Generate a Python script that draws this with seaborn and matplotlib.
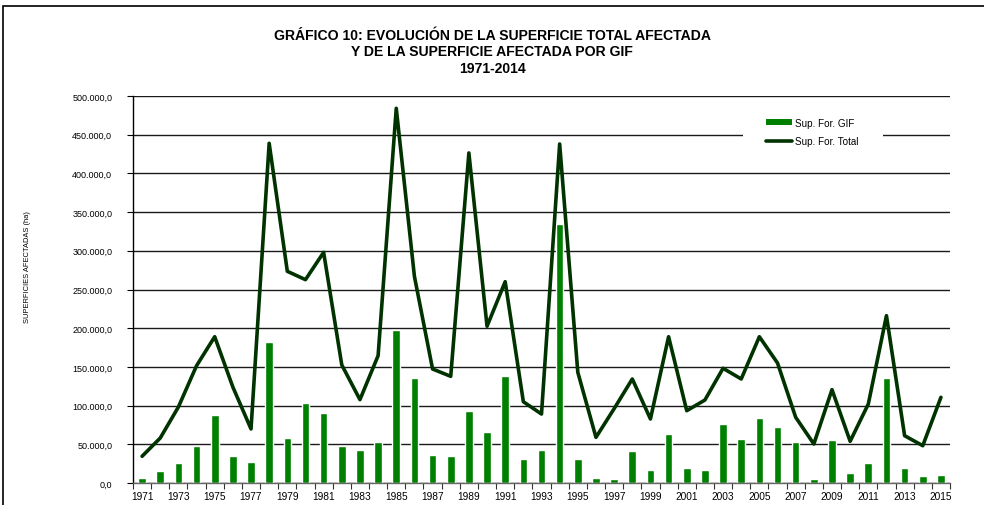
import numpy as np
import pandas as pd
import seaborn as sns
import matplotlib.pyplot as plt
from matplotlib.lines import Line2D
from matplotlib.patches import Patch, Rectangle
from matplotlib.ticker import FuncFormatter


#%% Data

Years = [str(y) for y in range(1971, 2016)]

Sup_GIF = [
    6500, 15000, 25500, 47800, 87500, 34500, 26700, 182500, 58100, 103400,
    90400, 47800, 42200, 53400, 198000, 135300, 36200, 34900, 93000, 65900,
    138700, 30600, 43000, 334600, 31400, 6500, 5200, 41300, 17200, 63300,
    19800, 16800, 76600, 56400, 84400, 72000, 52600, 5200, 56000, 12500,
    25800, 135300, 19400, 9500, 10300,
]

Sup_Total = [
    34500, 58100, 98200, 151500, 189000, 124000, 69800, 438900, 273500, 262700,
    298000, 152500, 107700, 164500, 484100, 267000, 147300, 137800, 426400, 202500,
    260100, 105000, 89100, 438000, 143000, 59000, 96000, 134400, 82700, 189000,
    93400, 107200, 148200, 134400, 189000, 155000, 84900, 50400, 120600, 53900,
    102000, 216200, 61100, 48200, 110700,
]

df = pd.DataFrame({"Year": Years, "GIF": Sup_GIF, "Total": Sup_Total})


#%% Style

Title   = ("GRÁFICO 10: EVOLUCIÓN DE LA SUPERFICIE TOTAL AFECTADA\n"
           "Y DE LA SUPERFICIE AFECTADA POR GIF\n"
           "1971-2014")
YLabel  = "SUPERFICIES AFECTADAS (ha)"

Color_Bar   = "#008000"
Color_Line  = "#003300"
FontName    = ["Liberation Sans", "DejaVu Sans"]

YTicks = np.arange(0, 500001, 50000)


def fmt_es(v, pos=None):
    s = "{:,.1f}".format(v)
    return s.replace(",", "X").replace(".", ",").replace("X", ".")


sns.set_style("white")
plt.rcParams["font.family"] = FontName
plt.rcParams["text.color"] = "k"
plt.rcParams["xtick.color"] = "k"
plt.rcParams["ytick.color"] = "k"

Fig = plt.figure(figsize=[9.84, 5.06], dpi=100)

# outer frame (cut at right/bottom like the source)
Fig.patches.append(Rectangle((3 / 984, -0.1), 1.2, (506 - 7) / 506 + 0.1,
                             transform=Fig.transFigure, fill=False,
                             edgecolor="k", linewidth=1.2, zorder=0))

ax = Fig.add_axes([133 / 984, 22 / 506, 817 / 984, 387 / 506])

# gridlines
for yv in YTicks:
    ax.axhline(yv, color="#1a1a1a", linewidth=1.0, zorder=0)

sns.barplot(data=df, x="Year", y="GIF", order=Years, color=Color_Bar,
            saturation=1, width=0.42, ax=ax, zorder=2)

sns.pointplot(data=df, x="Year", y="Total", order=Years, color=Color_Line,
              markers="", linewidth=2.6, ax=ax, zorder=3)

# Y axis
ax.set_ylim(0, 500000)
ax.set_yticks(YTicks)
ax.yaxis.set_major_formatter(FuncFormatter(fmt_es))
ax.tick_params(axis="y", labelsize=6.5, length=4, width=0.8, direction="out",
               left=True, pad=11)
ax.set_ylabel("")
Fig.text(27.5 / 984, 1 - 267 / 506, YLabel, rotation=90, fontsize=5.4,
         ha="center", va="center")

# X axis
ax.set_xlim(-0.5, len(Years) - 0.5)
ax.set_xticks(range(0, len(Years), 2))
ax.set_xticklabels(Years[::2], fontsize=7.3)
ax.set_xticks(np.arange(-0.5, len(Years), 1), minor=True)
ax.tick_params(axis="x", which="major", length=0, pad=6)
ax.tick_params(axis="x", which="minor", length=4.5, width=0.8, direction="out",
               bottom=True, color="#333333")
ax.set_xlabel("")

ax.spines[["right", "top"]].set_visible(False)
ax.spines["left"].set_linewidth(1.0)
ax.spines["left"].set_color("k")
ax.spines["bottom"].set_linewidth(1.0)
ax.spines["bottom"].set_color("#666666")

# legend (white box that breaks the gridline)
ax.add_patch(Rectangle(((743 - 133) / 817, (484 - 155) / 387), 140 / 817, 43 / 387,
                       transform=ax.transAxes, facecolor="white",
                       edgecolor="none", zorder=4))
handles = [Patch(facecolor=Color_Bar, edgecolor="none"),
           Line2D([0], [0], color=Color_Line, linewidth=2.6)]
leg = ax.legend(handles, ["Sup. For. GIF", "Sup. For. Total"],
                loc="center left",
                bbox_to_anchor=((766 - 133) / 817, (484 - 133) / 387),
                frameon=False, fontsize=7.1, handlelength=2.6, handleheight=0.55,
                handletextpad=0.3, labelspacing=0.9, borderpad=0,
                borderaxespad=0)
leg.set_zorder(5)

# title
Fig.text(492 / 984, 1 - 28.5 / 506, Title, ha="center", va="top",
         fontsize=10.1, fontweight="bold", linespacing=1.24)

Fig.savefig("out.png", dpi=100)
